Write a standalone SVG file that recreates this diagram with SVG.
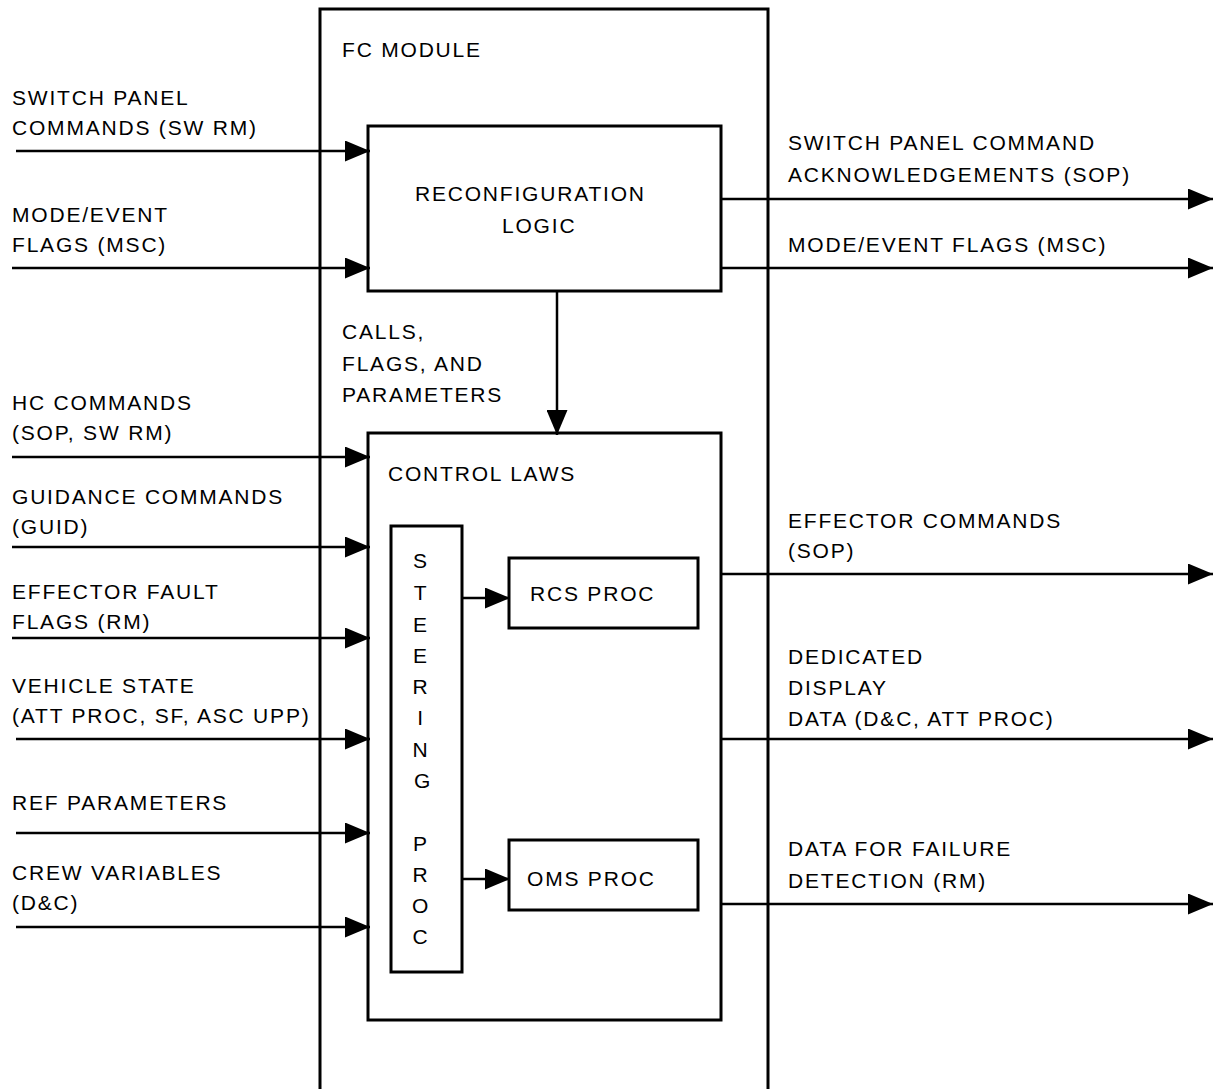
<svg xmlns="http://www.w3.org/2000/svg" width="1213" height="1089" viewBox="0 0 1213 1089">
<defs>
<marker id="ah" markerUnits="userSpaceOnUse" markerWidth="25" markerHeight="21" refX="25" refY="10.5" orient="auto" viewBox="0 0 25 21">
<path d="M0,0 L25,10.5 L0,21 Z" fill="#000"/>
</marker>
<style>
text{font-family:"Liberation Sans",Arial,sans-serif;font-size:21px;letter-spacing:1.8px;fill:#000}
.box{fill:#fff;stroke:#000;stroke-width:3}
.ln{stroke:#000;stroke-width:2.5;fill:none;marker-end:url(#ah)}
.mid{text-anchor:middle}
</style>
</defs>
<rect width="1213" height="1089" fill="#fff"/>
<g id="fc-module">
<path d="M320,1089 V9 H768 V1089" fill="none" stroke="#000" stroke-width="3"/>
<text x="342" y="57">FC MODULE</text>
</g>
<g id="reconfiguration-logic">
<rect class="box" x="368" y="126" width="353" height="165"/>
<text x="415" y="201">RECONFIGURATION</text>
<text x="502" y="233">LOGIC</text>
</g>
<g id="control-laws">
<rect class="box" x="368" y="433" width="353" height="587"/>
<text x="388" y="481">CONTROL LAWS</text>
</g>
<g id="steering-proc">
<rect class="box" x="391" y="526" width="71" height="446"/>
<text class="mid" x="421" y="568">S</text>
<text class="mid" x="421" y="600">T</text>
<text class="mid" x="421" y="632">E</text>
<text class="mid" x="421" y="663">E</text>
<text class="mid" x="421" y="694">R</text>
<text class="mid" x="421" y="725">I</text>
<text class="mid" x="421" y="757">N</text>
<text class="mid" x="423" y="788">G</text>
<text class="mid" x="421" y="851">P</text>
<text class="mid" x="421" y="882">R</text>
<text class="mid" x="421" y="913">O</text>
<text class="mid" x="421" y="944">C</text>
</g>
<g id="rcs-proc">
<rect class="box" x="509" y="558" width="189" height="70"/>
<text x="530" y="601">RCS PROC</text>
</g>
<g id="oms-proc">
<rect class="box" x="509" y="840" width="189" height="70"/>
<text x="527" y="886">OMS PROC</text>
</g>
<g id="connectors">
<line class="ln" x1="16" y1="151" x2="370" y2="151"/>
<line class="ln" x1="12" y1="268" x2="370" y2="268"/>
<line class="ln" x1="12" y1="457" x2="370" y2="457"/>
<line class="ln" x1="12" y1="547" x2="370" y2="547"/>
<line class="ln" x1="12" y1="638" x2="370" y2="638"/>
<line class="ln" x1="16" y1="739" x2="370" y2="739"/>
<line class="ln" x1="16" y1="833" x2="370" y2="833"/>
<line class="ln" x1="16" y1="927" x2="370" y2="927"/>
<line class="ln" x1="557" y1="291" x2="557" y2="435"/>
<line class="ln" x1="462" y1="598" x2="510" y2="598"/>
<line class="ln" x1="462" y1="879" x2="510" y2="879"/>
<line class="ln" x1="721" y1="199" x2="1213" y2="199"/>
<line class="ln" x1="721" y1="268" x2="1213" y2="268"/>
<line class="ln" x1="721" y1="574" x2="1213" y2="574"/>
<line class="ln" x1="721" y1="739" x2="1213" y2="739"/>
<line class="ln" x1="721" y1="904" x2="1213" y2="904"/>
</g>
<g id="labels">
<text x="12" y="105">SWITCH PANEL</text>
<text x="12" y="135">COMMANDS (SW RM)</text>
<text x="12" y="222">MODE/EVENT</text>
<text x="12" y="252">FLAGS (MSC)</text>
<text x="12" y="410">HC COMMANDS</text>
<text x="12" y="440">(SOP, SW RM)</text>
<text x="12" y="504">GUIDANCE COMMANDS</text>
<text x="12" y="534">(GUID)</text>
<text x="12" y="599">EFFECTOR FAULT</text>
<text x="12" y="629">FLAGS (RM)</text>
<text x="12" y="693">VEHICLE STATE</text>
<text x="12" y="723">(ATT PROC, SF, ASC UPP)</text>
<text x="12" y="810">REF PARAMETERS</text>
<text x="12" y="880">CREW VARIABLES</text>
<text x="12" y="910">(D&amp;C)</text>
<text x="342" y="339">CALLS,</text>
<text x="342" y="371">FLAGS, AND</text>
<text x="342" y="402">PARAMETERS</text>
<text x="788" y="150">SWITCH PANEL COMMAND</text>
<text x="788" y="182">ACKNOWLEDGEMENTS (SOP)</text>
<text x="788" y="252">MODE/EVENT FLAGS (MSC)</text>
<text x="788" y="528">EFFECTOR COMMANDS</text>
<text x="788" y="558">(SOP)</text>
<text x="788" y="664">DEDICATED</text>
<text x="788" y="695">DISPLAY</text>
<text x="788" y="726">DATA (D&amp;C, ATT PROC)</text>
<text x="788" y="856">DATA FOR FAILURE</text>
<text x="788" y="888">DETECTION (RM)</text>
</g>
</svg>
